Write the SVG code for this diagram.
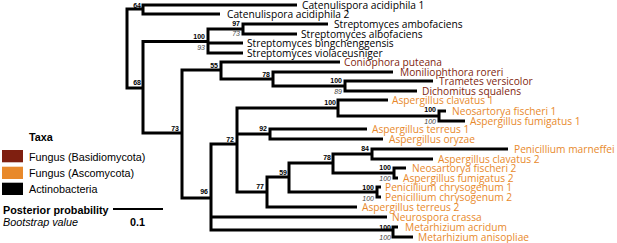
<svg xmlns="http://www.w3.org/2000/svg" width="617" height="243" viewBox="0 0 617 243">
<style>
.br{fill:none;stroke:#000;stroke-width:3;stroke-linejoin:miter}
.lf{font-family:"Open Sans",sans-serif;font-size:10.2px}
.ac{fill:#000}.ba{fill:#7f1f10}.as{fill:#e8892b}
.pp{font-family:"Liberation Sans",Arial,sans-serif;font-size:7px;font-weight:bold;text-anchor:end;fill:#000}
.bs{font-family:"Liberation Sans",Arial,sans-serif;font-size:7px;font-style:italic;text-anchor:end;fill:#444}
.lg{font-family:"Liberation Sans",Arial,sans-serif;font-size:10.8px;fill:#000}
</style>
<rect width="617" height="243" fill="#fff"/>
<g id="connectors" class="br">
<path d="M143 9H127V88H143"/>
<path d="M297 5H143V14H220"/>
<path d="M208 41.5H143V133H182"/>
<path d="M243 29H208V53H243M208 43H243"/>
<path d="M328 24H243V34H297"/>
<path d="M221 70H182V198H211"/>
<path d="M340 62H221V79H273"/>
<path d="M393 72H273V86H345"/>
<path d="M433 81H345V91H417"/>
<path d="M237 144H211V230H393M211 217H387"/>
<path d="M338 108H237V192H267M237 134H270"/>
<path d="M388 100H338V116H439"/>
<path d="M446 111H439V121H465"/>
<path d="M367 129H270V139H383"/>
<path d="M289 177H267V207H357"/>
<path d="M333 163H289V192H377"/>
<path d="M372 154H333V173H394"/>
<path d="M508 149H372V159H433"/>
<path d="M406 168H394V178H398"/>
<path d="M381 187H377V197H381"/>
<path d="M398 227H393V237H413"/>
<path d="M113 209H163" stroke-width="2"/>
</g>
<g id="leaves" class="lf">
<g id="leaf-cat1"><text class="ac" x="302" y="9">Catenulispora acidiphila 1</text></g>
<g id="leaf-cat2"><text class="ac" x="227" y="18">Catenulispora acidiphila 2</text></g>
<g id="leaf-samb"><text class="ac" x="334" y="28">Streptomyces ambofaciens</text></g>
<g id="leaf-salb"><text class="ac" x="301" y="38">Streptomyces albofaciens</text></g>
<g id="leaf-sbin"><text class="ac" x="247" y="47">Streptomyces bingchenggensis</text></g>
<g id="leaf-svio"><text class="ac" x="247" y="57">Streptomyces violaceusniger</text></g>
<g id="leaf-conio"><text class="ba" x="344" y="66">Coniophora puteana</text></g>
<g id="leaf-monil"><text class="ba" x="400" y="76">Moniliophthora roreri</text></g>
<g id="leaf-trame"><text class="ba" x="439" y="85">Trametes versicolor</text></g>
<g id="leaf-dicho"><text class="ba" x="422" y="95">Dichomitus squalens</text></g>
<g id="leaf-aclav1"><text class="as" x="392" y="104">Aspergillus clavatus 1</text></g>
<g id="leaf-nfis1"><text class="as" x="452" y="115">Neosartorya fischeri 1</text></g>
<g id="leaf-afum1"><text class="as" x="470" y="125">Aspergillus fumigatus 1</text></g>
<g id="leaf-ater1"><text class="as" x="372" y="133">Aspergillus terreus 1</text></g>
<g id="leaf-aory"><text class="as" x="389" y="143">Aspergillus oryzae</text></g>
<g id="leaf-pmar"><text class="as" x="514" y="153">Penicillium marneffei</text></g>
<g id="leaf-aclav2"><text class="as" x="438" y="163">Aspergillus clavatus 2</text></g>
<g id="leaf-nfis2"><text class="as" x="412" y="172">Neosartorya fischeri 2</text></g>
<g id="leaf-afum2"><text class="as" x="403" y="182">Aspergillus fumigatus 2</text></g>
<g id="leaf-pchr1"><text class="as" x="385" y="191">Penicillium chrysogenum 1</text></g>
<g id="leaf-pchr2"><text class="as" x="385" y="201">Penicillium chrysogenum 2</text></g>
<g id="leaf-ater2"><text class="as" x="362" y="211">Aspergillus terreus 2</text></g>
<g id="leaf-ncra"><text class="as" x="392" y="221">Neurospora crassa</text></g>
<g id="leaf-macr"><text class="as" x="405" y="231">Metarhizium acridum</text></g>
<g id="leaf-mani"><text class="as" x="418" y="241">Metarhizium anisopliae</text></g>
</g>
<g id="support">
<g id="n64"><text class="pp" x="141" y="7.5">64</text></g>
<g id="n68"><text class="pp" x="141" y="84.5">68</text></g>
<g id="n100a"><text class="pp" x="205" y="38.5">100</text><text class="bs" x="205" y="49.5">93</text></g>
<g id="n97"><text class="pp" x="240" y="25.5">97</text><text class="bs" x="240" y="36">73</text></g>
<g id="n55"><text class="pp" x="218" y="67.5">55</text></g>
<g id="n78a"><text class="pp" x="270" y="76.5">78</text></g>
<g id="n100b"><text class="pp" x="342" y="82.5">100</text><text class="bs" x="342" y="93.5">89</text></g>
<g id="n100c"><text class="pp" x="336" y="105">100</text></g>
<g id="n100d"><text class="pp" x="436" y="111.5">100</text><text class="bs" x="436" y="123.5">100</text></g>
<g id="n73"><text class="pp" x="179" y="130.5">73</text></g>
<g id="n92"><text class="pp" x="267" y="130.5">92</text></g>
<g id="n72"><text class="pp" x="234" y="141.5">72</text></g>
<g id="n84"><text class="pp" x="369" y="150.5">84</text></g>
<g id="n78b"><text class="pp" x="331" y="159.5">78</text></g>
<g id="n100e"><text class="pp" x="391" y="169.5">100</text><text class="bs" x="391" y="180.5">100</text></g>
<g id="n59"><text class="pp" x="287" y="174.5">59</text></g>
<g id="n77"><text class="pp" x="264" y="188.5">77</text></g>
<g id="n100f"><text class="pp" x="374" y="189.5">100</text><text class="bs" x="374" y="200.5">100</text></g>
<g id="n96"><text class="pp" x="208" y="193.5">96</text></g>
<g id="n100g"><text class="pp" x="391" y="229.5">100</text><text class="bs" x="391" y="239.5">100</text></g>
</g>
<g id="legend">
<text class="lg" x="29" y="141" font-weight="bold" font-size="10.5">Taxa</text>
<rect x="2" y="150" width="21" height="12.3" fill="#7f1f10"/>
<rect x="2" y="166.7" width="21" height="12.3" fill="#e8892b"/>
<rect x="2" y="182.7" width="21" height="12.3" fill="#000"/>
<text class="lg" x="29" y="161">Fungus (Basidiomycota)</text>
<text class="lg" x="29" y="177">Fungus (Ascomycota)</text>
<text class="lg" x="29" y="193">Actinobacteria</text>
<text class="lg" x="3" y="214" font-weight="bold" font-size="10.6">Posterior probability</text>
<text class="lg" x="3" y="226" font-style="italic" font-size="10.6">Bootstrap value</text>
<text class="lg" x="130" y="226" font-weight="bold" font-size="10.6">0.1</text>
</g>
</svg>
